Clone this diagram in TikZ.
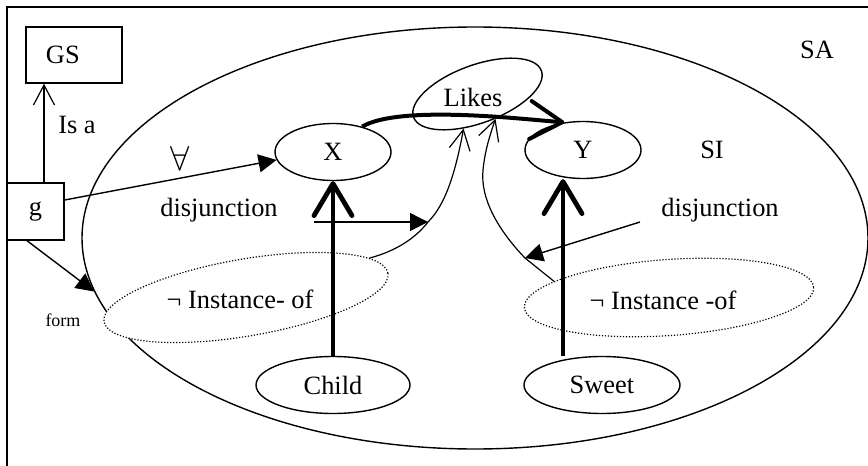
\documentclass[tikz,border=0pt]{standalone}
\usepackage{fontspec}
\setmainfont{Liberation Serif}
\usetikzlibrary{arrows.meta,shapes.geometric,calc}
\tikzset{
  lbl/.style={font=\fontsize{13.2}{15}\selectfont, inner sep=1pt},
  tinylbl/.style={font=\fontsize{9}{11}\selectfont, inner sep=1pt},
  sqbox/.style={draw, line width=0.7pt, inner sep=0pt, font=\fontsize{13.2}{15}\selectfont},
  ell/.style={ellipse, draw, line width=0.7pt, inner sep=0pt, minimum width=58pt,
              minimum height=28.5pt, font=\fontsize{13.2}{15}\selectfont},
  negell/.style={ellipse, draw, fill=white, line width=0.6pt,
                 dash pattern=on 0.6pt off 0.9pt, inner sep=0pt},
  heavy/.style={-{Straight Barb[length=16pt,width=19pt,round]}, line width=2.4pt},
  flow/.style={-{Triangle[length=9pt,width=9pt]}, line width=0.7pt},
  barb/.style={-{Straight Barb[length=10pt,width=10.5pt]}, line width=0.6pt},
}
\begin{document}
\begin{tikzpicture}[x=0.5pt,y=-0.5pt,line width=0.7pt]
  \useasboundingbox (0,0) rectangle (868,466);
  \draw (7,466) -- (7,7) -- (868,7);
  \node[ellipse, draw, inner sep=0pt, minimum width=393pt, minimum height=211pt] (sa) at (475,238) {};
  \node[lbl] (salbl) at (817,50) {SA};
  \node[lbl] (silbl) at (712,150) {SI};
  \node[sqbox, minimum width=48pt, minimum height=28pt, text width=28pt, inner xsep=10pt, align=left] (gs) at (74,55) {GS};
  \node[sqbox, minimum width=28.5pt, minimum height=28.5pt] (g) at (35.5,211.5) {g};
  \node[negell, minimum width=144pt, minimum height=38.5pt, rotate=9.7] (neg1) at (246,297.5) {};
  \node[negell, minimum width=145pt, minimum height=38pt, rotate=4] (neg2) at (669,297.5) {};
  \node[lbl] (negtxt1) at (240,299) {¬ Instance- of};
  \node[lbl] (negtxt2) at (663,300) {¬ Instance -of};
  \node[ell] (x) at (333,152) {X};
  \node[ell] (y) at (583,150) {Y};
  \node[ell, minimum width=68pt, minimum height=29pt, rotate=20] (likes) at (477.5,94) {};
  \node[lbl] (likestxt) at (473,97) {Likes};
  \node[ell, minimum width=77pt] (child) at (333,385) {Child};
  \node[ell, minimum width=78pt] (sweet) at (602,385) {Sweet};
  \node[lbl] (isa) at (77,125) {Is a};
  \node[lbl, font=\fontsize{16}{18}\selectfont] (forall) at (180,158) {$\forall$};
  \node[lbl] (disl) at (219,210) {disjunction};
  \node[lbl] (disr) at (720,210) {disjunction};
  \node[tinylbl] (form) at (63,320) {form};
  \coordinate (c1) at (428,222);
  \coordinate (c2) at (525,258);
  \coordinate (dl) at (314,222);
  \coordinate (dr) at (640,222);
  \draw[barb] ($(g.north)+(8.5,0)$) -- ($(gs.south)+(-30,0)$);
  \draw[flow] ([yshift=5.75pt]g.east) -- (x.188);
  \draw[flow] ([xshift=-4.25pt]g.south) -- (sa.188);
  \draw[heavy, line width=2pt] (x.41) .. controls (400,104) and (530,120) .. (y.124);
  \draw[heavy] (child) -- (x);
  \draw[heavy] ([xshift=-19.5pt]sweet.north) -- ([xshift=-10pt]y.south);
  \draw[barb] (neg1.8) .. controls (400,250) and (418,235) .. (c1)
    .. controls (445,205) and (455,175) .. (likes.228);
  \draw[barb] (neg2.168) .. controls (540,270) .. (c2) .. controls (500,232) and (480,200) .. (483,170)
    .. controls (485,150) and (490,135) .. (likes.286);
  \draw[flow] (dl) -- (c1);
  \draw[flow] (dr) -- (c2);
\end{tikzpicture}
\end{document}
